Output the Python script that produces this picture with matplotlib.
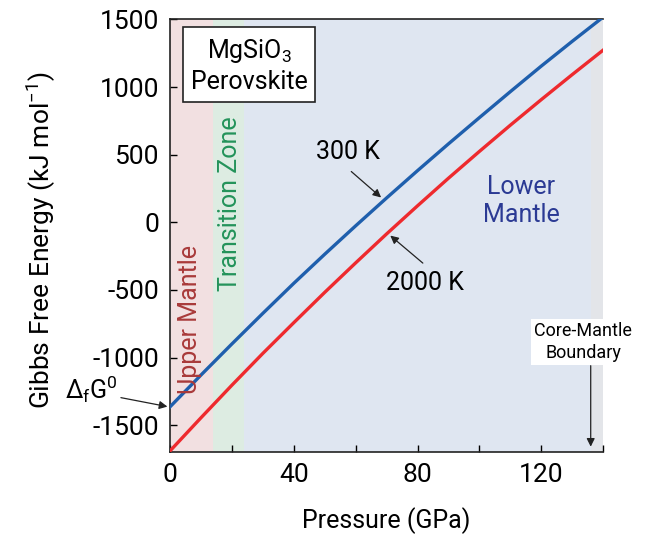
import numpy as np
import matplotlib.pyplot as plt

# Pressure grid (GPa) and Gibbs free energy (kJ/mol)
pressure = [0, 10, 20, 30, 40, 50, 60, 70, 80, 90, 100, 110, 120, 130, 140]
g_300K = [-1364, -1129, -899, -673, -451, -236, -26, 180, 382, 580, 774, 966, 1155, 1338, 1517]
g_2000K = [-1690, -1445, -1204, -969, -742, -518, -300, -86, 122, 326, 524, 718, 907, 1092, 1273]

# Mantle regions (GPa)
zones = [("upper", 0, 14, "#f2e0e1"),
         ("transition", 14, 24, "#ddece2"),
         ("lower", 24, 136, "#dfe6f1"),
         ("core", 136, 140, "#e3e5e9")]

xticks = [0, 40, 80, 120]
yticks = [-1500, -1000, -500, 0, 500, 1000, 1500]

plt.rcParams['font.family'] = ['Roboto', 'DejaVu Sans']
plt.rcParams['axes.unicode_minus'] = False
plt.rcParams['mathtext.fontset'] = 'custom'
plt.rcParams['mathtext.rm'] = 'Roboto'
plt.rcParams['mathtext.it'] = 'Roboto'

fig = plt.figure(figsize=(6.62, 5.37), dpi=100)
ax = fig.add_axes([0.257, 0.158, 0.654, 0.807])

for name, a, b, c in zones:
    ax.axvspan(a, b, color=c, lw=0, zorder=0)

ax.plot(pressure, g_300K, color="#1f5fad", lw=2.4, zorder=3)
ax.plot(pressure, g_2000K, color="#ee2a2e", lw=2.4, zorder=3)

ax.set_xlim(0, 140)
ax.set_ylim(-1700, 1505)
ax.set_xticks(xticks)
ax.set_xticks([20, 60, 100, 140], minor=True)
ax.set_yticks(yticks)
ax.tick_params(direction="in", labelsize=19, length=5, width=1, pad=8)
ax.tick_params(which="minor", direction="in", length=5, width=1)
ax.spines["right"].set_visible(False)
for s in ["left", "bottom", "top"]:
    ax.spines[s].set_linewidth(1.2)
    ax.spines[s].set_color("#222222")

ax.set_xlabel("Pressure (GPa)", fontsize=18, labelpad=14)
ax.set_ylabel("Gibbs Free Energy (kJ mol$^{-1}$)", fontsize=19)
ax.yaxis.set_label_coords(-0.26, 0.49)

# labels and arrows
arrow = dict(arrowstyle="-|>", color="#222222", lw=0.9, mutation_scale=12)
ax.annotate("", xy=(68.9, 170), xytext=(57.9, 389), arrowprops=arrow, zorder=4)
ax.text(57.5, 522, "300 K", fontsize=18, ha="center", va="center")
ax.annotate("", xy=(70.5, -85), xytext=(82.4, -315), arrowprops=arrow, zorder=4)
ax.text(82.4, -448, "2000 K", fontsize=18, ha="center", va="center")

ax.annotate("", xy=(0, -1367), xytext=(-16.8, -1293), arrowprops=arrow,
            annotation_clip=False)
ax.text(-25.5, -1235, r"$\Delta_{f}$G$^{0}$", fontsize=18, ha="center", va="center",
        clip_on=False)

ax.text(113.5, 160, "Lower\nMantle", fontsize=18, ha="center", va="center",
        color="#2b3a94", linespacing=1.2)
ax.text(6.3, -722, "Upper Mantle", fontsize=18, ha="center", va="center",
        color="#a93a3a", rotation=90)
ax.text(19.2, 134, "Transition Zone", fontsize=18, ha="center", va="center",
        color="#23935a", rotation=90)

ax.text(25.5, 1159, "MgSiO$_3$\nPerovskite", fontsize=18, ha="center", va="center",
        linespacing=1.3,
        bbox=dict(boxstyle="square,pad=0.3", fc="white", ec="#222222", lw=1.2))

ax.annotate("", xy=(136, -1680), xytext=(136, -1040), arrowprops=arrow, zorder=4)
ax.text(133.5, -885, "Core-Mantle\nBoundary", fontsize=13, ha="center", va="center",
        linespacing=1.3, bbox=dict(boxstyle="square,pad=0.15", fc="white", ec="none"),
        zorder=5)

fig.savefig("out.png", dpi=100)
